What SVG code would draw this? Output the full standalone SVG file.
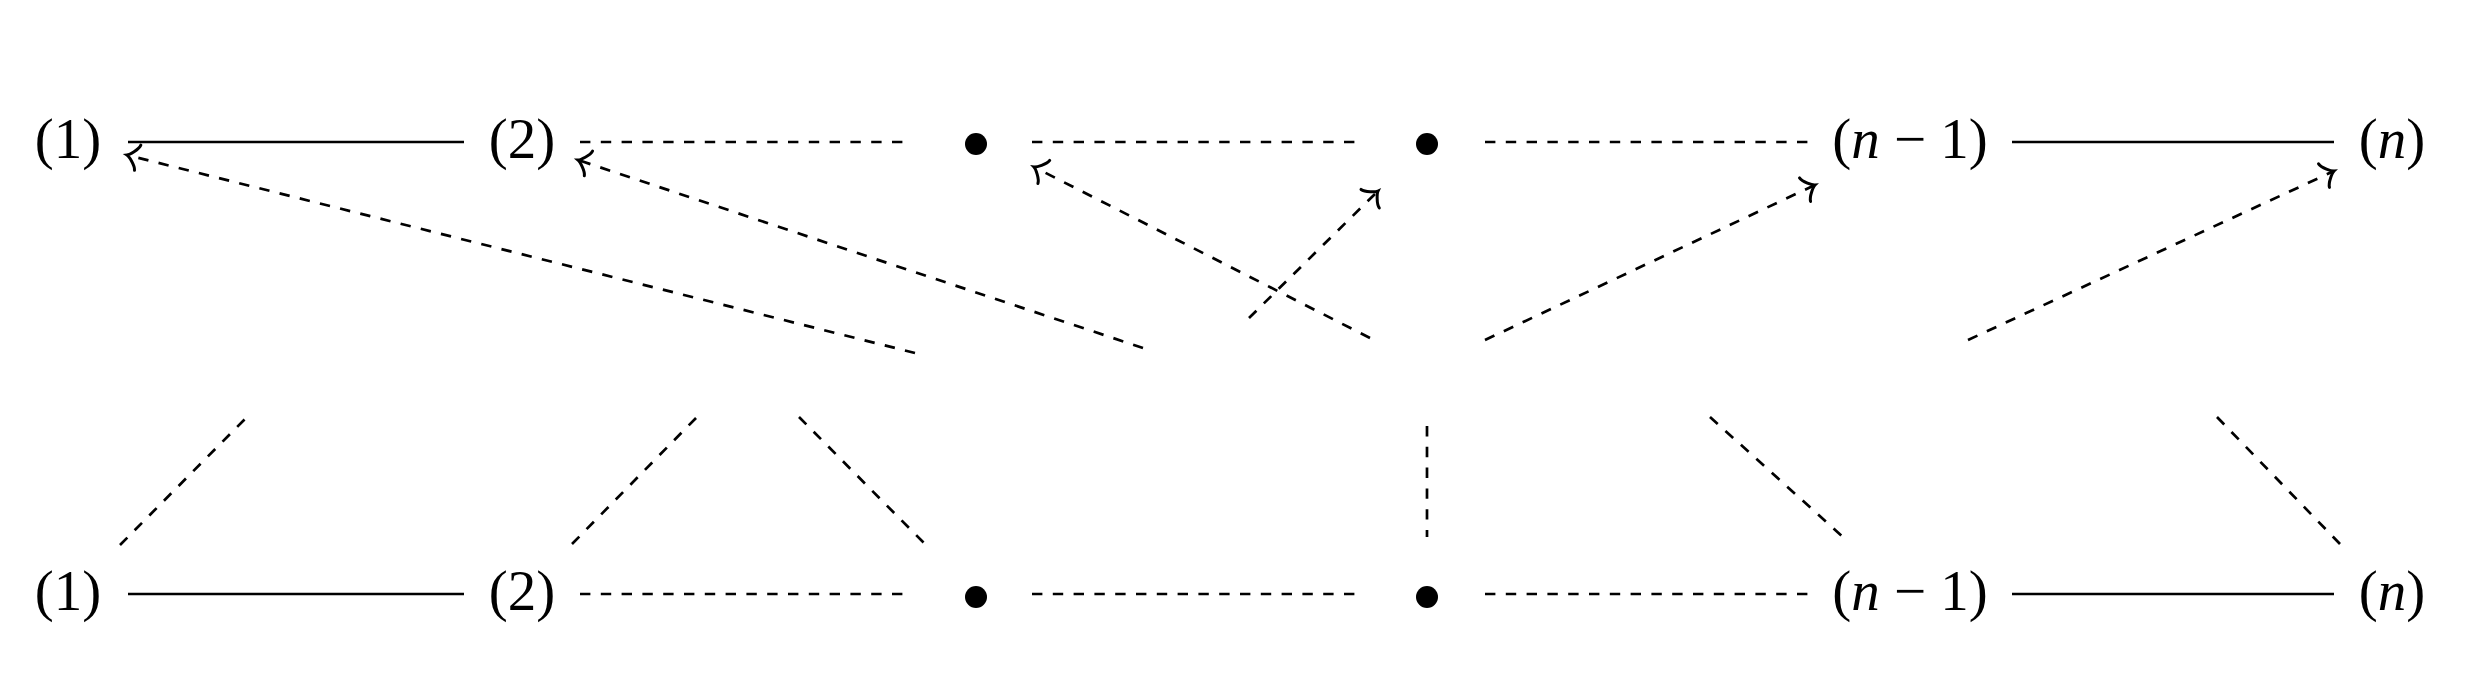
<svg xmlns="http://www.w3.org/2000/svg" width="2485" height="700" viewBox="0 0 2485 700">
<style>
.lbl{font-family:"Liberation Serif","Times New Roman",serif;font-size:57px;fill:#000;text-anchor:middle}
.it{font-style:italic}
.solid{stroke:#000;stroke-width:2.7;fill:none}
.dash{stroke:#000;stroke-width:2.7;fill:none;stroke-dasharray:10.4 10.4}
.arr{stroke:#000;stroke-width:2.7;fill:none;stroke-dasharray:10.4 10.4;marker-end:url(#tip)}
.dot{fill:#000}
</style>
<defs>
<marker id="tip" markerUnits="userSpaceOnUse" viewBox="-16 -16 20 32" markerWidth="20" markerHeight="32" refX="0" refY="0" orient="auto" overflow="visible">
<path d="M -11,13 C -10.2,8 -2.2,0.8 0,0 C -2.2,-0.8 -10.2,-8 -11,-13" fill="none" stroke="#000" stroke-width="3" stroke-linecap="round" stroke-dasharray="none"/>
</marker>
</defs>
<rect width="2485" height="700" fill="#fff"/>
<g id="connectors">
<line class="solid" x1="128" y1="142" x2="464" y2="142"/>
<line class="dash" x1="580" y1="142" x2="909" y2="142"/>
<line class="dash" x1="1032" y1="142" x2="1360" y2="142"/>
<line class="dash" x1="1485" y1="142" x2="1810" y2="142"/>
<line class="solid" x1="2012" y1="142" x2="2334" y2="142"/>
<line class="solid" x1="128" y1="594" x2="464" y2="594"/>
<line class="dash" x1="580" y1="594" x2="909" y2="594"/>
<line class="dash" x1="1032" y1="594" x2="1360" y2="594"/>
<line class="dash" x1="1485" y1="594" x2="1810" y2="594"/>
<line class="solid" x1="2012" y1="594" x2="2334" y2="594"/>
<line class="arr" x1="915" y1="353" x2="127" y2="155"/>
<line class="arr" x1="1143" y1="348" x2="578" y2="160"/>
<line class="arr" x1="1370" y1="338" x2="1034" y2="167"/>
<line class="arr" x1="1249" y1="318" x2="1378" y2="191"/>
<line class="arr" x1="1485" y1="340" x2="1815" y2="185"/>
<line class="arr" x1="1968" y1="340" x2="2334" y2="171"/>
<line class="dash" x1="120" y1="545" x2="246" y2="418"/>
<line class="dash" x1="572" y1="544" x2="697" y2="417"/>
<line class="dash" x1="799" y1="417" x2="925" y2="544"/>
<line class="dash" x1="1427" y1="426" x2="1427" y2="537"/>
<line class="dash" x1="1710" y1="417" x2="1843" y2="537"/>
<line class="dash" x1="2217" y1="417" x2="2340" y2="544"/>
</g>
<g id="top-1"><text class="lbl" x="68" y="158">(1)</text></g>
<g id="top-2"><text class="lbl" x="522" y="158">(2)</text></g>
<g id="top-dot1"><circle class="dot" cx="976" cy="144" r="11"/></g>
<g id="top-dot2"><circle class="dot" cx="1427" cy="144" r="11"/></g>
<g id="top-n1"><text class="lbl" x="1910" y="158">(<tspan class="it">n</tspan> − 1)</text></g>
<g id="top-n"><text class="lbl" x="2392" y="158">(<tspan class="it">n</tspan>)</text></g>
<g id="bot-1"><text class="lbl" x="68" y="610">(1)</text></g>
<g id="bot-2"><text class="lbl" x="522" y="610">(2)</text></g>
<g id="bot-dot1"><circle class="dot" cx="976" cy="597" r="11"/></g>
<g id="bot-dot2"><circle class="dot" cx="1427" cy="597" r="11"/></g>
<g id="bot-n1"><text class="lbl" x="1910" y="610">(<tspan class="it">n</tspan> − 1)</text></g>
<g id="bot-n"><text class="lbl" x="2392" y="610">(<tspan class="it">n</tspan>)</text></g>
</svg>
